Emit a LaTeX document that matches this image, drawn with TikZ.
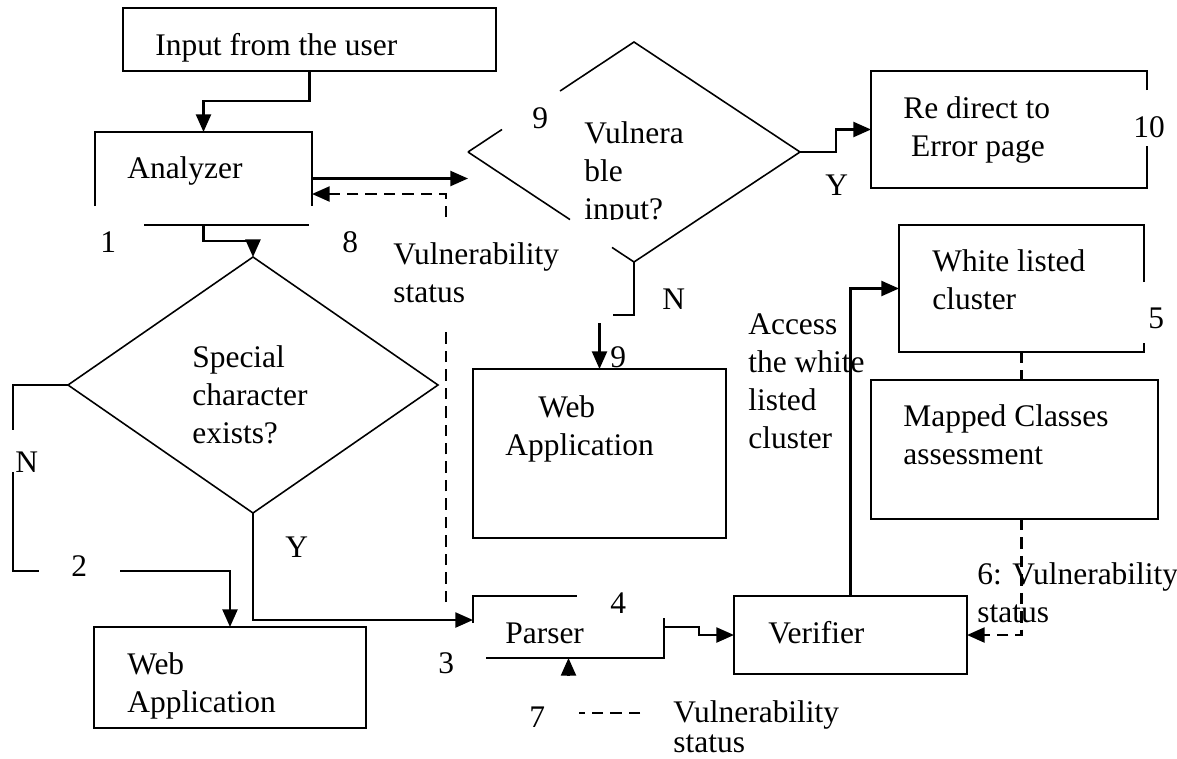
\documentclass[tikz,border=0pt]{standalone}
\usepackage{fontspec}
\setmainfont{Liberation Serif}
\usetikzlibrary{arrows.meta,calc,shapes.geometric}
\newcommand{\pxl}{0.02cm}

\begin{document}
\begin{tikzpicture}[x=0.02cm, y=-0.02cm,
  % multi-line texts are placed by the baseline of their last line
  txt/.style={inner sep=0pt, anchor=base west, align=left,
    font=\fontsize{17.9pt}{21.5pt}\selectfont},
  box/.style={draw, line width=0.9pt, inner sep=0pt, outer sep=0pt},
  hidbox/.style={draw=none, inner sep=0pt, outer sep=0pt},
  dia/.style={shape=diamond, draw=none, inner sep=0pt, outer sep=0pt},
  bline/.style={line width=0.9pt},
  conn/.style={line width=1.3pt},
  dashconn/.style={line width=1.3pt, dash pattern=on 6.5pt off 4pt},
  arr/.style={-{Triangle[length=10pt,width=8.5pt]}}]

\useasboundingbox (0,0) rectangle (1177,758);

% ---------- boxes ----------
\node[box, minimum width=373*\pxl, minimum height=63*\pxl]  (inp) at (309.5,39.5) {};
\node[hidbox, minimum width=217*\pxl, minimum height=93*\pxl] (an) at (203.5,178.5) {};
\node[box, minimum width=253*\pxl, minimum height=169*\pxl] (wa2) at (599.5,453.5) {};
\node[box, minimum width=272*\pxl, minimum height=101*\pxl] (wa1) at (230,677.5) {};
\node[hidbox, minimum width=276*\pxl, minimum height=117*\pxl] (err) at (1009,129.5) {};
\node[hidbox, minimum width=245*\pxl, minimum height=127*\pxl] (wl) at (1021.5,288.5) {};
\node[box, minimum width=287*\pxl, minimum height=139*\pxl] (mc) at (1014.5,449.5) {};
\node[hidbox, minimum width=191*\pxl, minimum height=62*\pxl] (par) at (568.5,627) {};
\node[box, minimum width=233*\pxl, minimum height=78*\pxl] (ver) at (850.5,635) {};

% ---------- decisions ----------
\node[dia, minimum width=370*\pxl, minimum height=256*\pxl] (sd) at (253,385) {};
\node[dia, minimum width=332*\pxl, minimum height=220*\pxl] (vd) at (634,152) {};

% ---------- outlines broken by the labels ----------
% Analyzer
\draw[bline] ([yshift=19*\pxl]an.south west) -- (an.north west) -- (an.north east)
  -- ([yshift=19*\pxl]an.south east);
\draw[bline] ([xshift=49*\pxl]an.south west) -- ([xshift=-3*\pxl]an.south east);
% Re direct to Error page
\draw[bline] ([yshift=-19*\pxl]err.north east) -- (err.north east) -- (err.north west)
  -- (err.south west) -- (err.south east) -- ([yshift=42*\pxl]err.south east);
% White listed cluster
\draw[bline] ([yshift=-57*\pxl]wl.north east) -- (wl.north east) -- (wl.north west)
  -- (wl.south west) -- (wl.south east) -- ([yshift=9*\pxl]wl.south east);
% Parser
\draw[bline] ([yshift=-27*\pxl]par.north west) -- (par.north west)
  -- ([xshift=104*\pxl]par.north west);
\draw[bline] ([yshift=-22*\pxl]par.north east) -- (par.south east)
  -- ([xshift=13*\pxl]par.south west);
% Special character diamond
\draw[bline] (sd.north) -- (sd.east) -- (sd.south) -- (sd.west) -- cycle;
% Vulnerable input diamond
\draw[bline] (vd.west) -- ($(vd.west)!0.205!(vd.north)$);
\draw[bline] ($(vd.west)!0.554!(vd.north)$) -- (vd.north) -- (vd.east) -- (vd.south)
  -- ($(vd.south)!0.1325!(vd.west)$);
\draw[bline] ($(vd.south)!0.3855!(vd.west)$) -- (vd.west);

% ---------- free ends of interrupted connectors ----------
\coordinate (fb1) at (446,602);
\coordinate (fb2) at (446,330);
\coordinate (fb3) at (446,217);
\coordinate (nb1) at (13,430);
\coordinate (nb2) at (13,472);
\coordinate (nb3) at (39,571);
\coordinate (nb4) at (120,571);
\coordinate (nb5) at (613,315);
\coordinate (sv1) at (640,713);
\coordinate (sv2) at (579,713);

% ---------- connectors ----------
\draw[conn,arr] (inp.south) -- ++(0,30) -| (an.north);
\draw[conn,arr] (an.east) -- (an.east -| vd.west);
\draw[dashconn] (fb1) -- (fb2);
\draw[dashconn,arr] (fb3) |- ([yshift=-15.5*\pxl]an.east);
\draw[conn,arr] (an.south) -- ++(0,16) -| (sd.north);
\draw[conn] (sd.west) -| (nb1);
\draw[conn] (nb2) |- (nb3);
\draw[conn,arr] (nb4) -| (wa1.north);
\draw[conn,arr] (sd.south) |- ([yshift=7*\pxl]par.west);
\draw[conn,arr] (vd.east) -- ++(36,0) |- (err.west);
\draw[conn] (vd.south) |- (nb5);
\draw[conn,arr] ([yshift=46*\pxl]wa2.north) -- (wa2.north);
\draw[conn,arr] (par.east) -- ++(35,0) |- (ver.west);
\draw[conn,arr] (ver.north) |- (wl.west);
\draw[dashconn] (wl.south) -- (wl.south |- mc.north);
\draw[dashconn,arr] (wl.south |- mc.south) |- (ver.east);
\draw[conn,arr] ([yshift=-18*\pxl]par.south) -- (par.south);
\draw[dashconn] (sv1) -- (sv2);

% ---------- texts ----------
\node[txt] at (155,55)  {Input from the user};
\node[txt] at (127,178) {Analyzer};
\node[txt] at (100,252) {1};
\node[txt] at (342,252) {8};
\node[txt] at (532,128) {9};
\begin{scope}
  \clip (560,90) rectangle (760,219.5);
  \node[txt] at (584,219) {Vulnera\\ble\\input?};
\end{scope}
\node[txt] at (662,309) {N};
\node[txt] at (393,302) {Vulnerability\\status};
\node[txt] at (192,443) {Special\\character\\exists?};
\node[txt] at (15,472)  {N};
\node[txt] at (71,576)  {2};
\node[txt] at (285,557) {Y};
\node[txt] at (127,712) {Web\\Application};
\node[txt] at (505,455) {\hspace*{0.66cm}Web\\Application};
\node[txt] at (610,367) {9};
\node[txt] at (438,673) {3};
\node[txt] at (505,643) {Parser};
\node[txt] at (610,613) {4};
\node[txt] at (529,727) {7};
\node[txt] at (673,752) {Vulnerability\\[-4.5pt]status};
\node[txt] at (768,643) {Verifier};
\node[txt] at (748,448) {Access\\the white\\listed\\cluster};
\node[txt] at (932,309) {White listed\\cluster};
\node[txt] at (1148,328) {5};
\node[txt] at (903,156) {Re direct to\\\ Error page};
\node[txt] at (1133,137) {10};
\node[txt] at (825,195) {Y};
\node[txt] at (903,464) {Mapped Classes\\assessment};
\node[txt] at (977,622) {6: Vulnerability\\status};

\end{tikzpicture}
\end{document}
